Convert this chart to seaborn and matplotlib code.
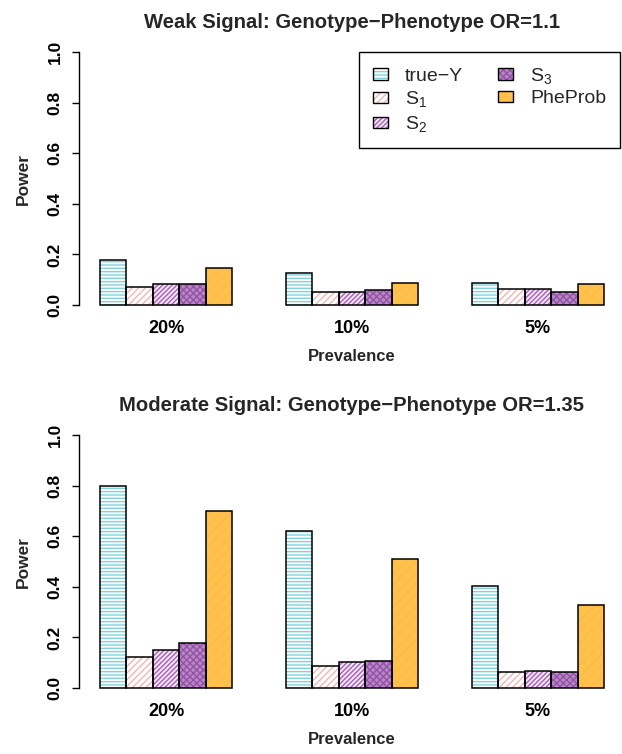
import numpy as np
import pandas as pd
import matplotlib
matplotlib.use("Agg")
import matplotlib.pyplot as plt
import matplotlib.patches as mpatches
import seaborn as sns

# data
prevalence = ['20%', '10%', '5%']
methods = ['true\u2212Y', 'S$_1$', 'S$_2$', 'S$_3$', 'PheProb']

weak_trueY = [0.176, 0.126, 0.088]
weak_S1 = [0.070, 0.053, 0.062]
weak_S2 = [0.082, 0.053, 0.065]
weak_S3 = [0.082, 0.058, 0.053]
weak_pheprob = [0.146, 0.088, 0.082]

mod_trueY = [0.798, 0.619, 0.405]
mod_S1 = [0.121, 0.086, 0.064]
mod_S2 = [0.152, 0.104, 0.068]
mod_S3 = [0.176, 0.108, 0.064]
mod_pheprob = [0.698, 0.512, 0.329]

y_ticks = [0.0, 0.2, 0.4, 0.6, 0.8, 1.0]

# (face colour, hatch, hatch colour) for each method
styles = [
    ('white', '-----', '#7fd3e0'),
    ('white', '/////', '#f5b4b4'),
    ('#f3e6f5', '///////', '#a85fb8'),
    ('#b888c6', 'xxxxx', '#9452a6'),
    ('#ffc04c', '///', '#fabb47'),
]

sns.set_style('white')
plt.rcParams['font.family'] = ['Liberation Sans', 'DejaVu Sans']
plt.rcParams['mathtext.fontset'] = 'custom'
plt.rcParams['mathtext.rm'] = 'Liberation Sans'
plt.rcParams['mathtext.it'] = 'Liberation Sans:italic'
plt.rcParams['hatch.linewidth'] = 1.0


def make_frame(vals):
    rows = []
    for m, series in zip(methods, vals):
        for p, v in zip(prevalence, series):
            rows.append({'Prevalence': p, 'Method': m, 'Power': v})
    return pd.DataFrame(rows)


def draw_panel(ax, df, title):
    sns.barplot(data=df, x='Prevalence', y='Power', hue='Method',
                order=prevalence, hue_order=methods, width=5 / 7,
                legend=False, ax=ax)
    for cont, (fc, hatch, hc) in zip(ax.containers, styles):
        for bar in cont:
            bar.set_facecolor(fc)
            bar.set_hatch(hatch)
            bar.set_edgecolor(hc)
            bar.set_linewidth(0)
            ax.add_patch(mpatches.Rectangle(bar.get_xy(), bar.get_width(),
                                            bar.get_height(), fill=False,
                                            edgecolor='black', lw=1.1))
    ax.set_xlim(-0.4657, 2.4657)
    ax.set_ylim(-0.04, 1.04)
    ax.set_yticks(y_ticks)
    ax.set_yticklabels([f'{t:.1f}' for t in y_ticks], rotation=90,
                       va='center', fontweight='bold', fontsize=12.5)
    ax.set_xticks(range(3))
    ax.set_xticklabels(prevalence, fontweight='bold', fontsize=13)
    for s in ['top', 'right', 'bottom']:
        ax.spines[s].set_visible(False)
    ax.spines['left'].set_bounds(0, 1)
    ax.spines['left'].set_color('black')
    ax.spines['left'].set_linewidth(1.0)
    ax.tick_params(axis='y', length=5, width=1.0, direction='out', pad=7,
                   colors='black', left=True)
    ax.tick_params(axis='x', length=0, pad=3.5, colors='black')
    ax.set_xlabel('Prevalence', fontweight='bold', fontsize=12, labelpad=9)
    ax.set_ylabel('Power', fontweight='bold', fontsize=12.5, labelpad=12)
    ax.set_title(title, fontweight='bold', fontsize=14.6, pad=10)


fig = plt.figure(figsize=(6.22, 7.54), dpi=100)
ax1 = fig.add_axes([0.1278, 0.5821, 0.8762, 0.3623])
ax2 = fig.add_axes([0.1278, 0.0741, 0.8762, 0.3623])

draw_panel(ax1, make_frame([weak_trueY, weak_S1, weak_S2, weak_S3, weak_pheprob]),
           'Weak Signal: Genotype\u2212Phenotype OR=1.1')
draw_panel(ax2, make_frame([mod_trueY, mod_S1, mod_S2, mod_S3, mod_pheprob]),
           'Moderate Signal: Genotype\u2212Phenotype OR=1.35')

handles = []
for fc, hatch, hc in styles:
    handles.append((mpatches.Patch(facecolor=fc, hatch=hatch, edgecolor=hc, lw=0),
                    mpatches.Patch(fill=False, edgecolor='black', lw=1.0)))
leg = fig.legend(handles, methods, ncol=2, loc='upper right',
                 bbox_to_anchor=(620 / 622, 1 - 52 / 754), borderaxespad=0,
                 fontsize=14, frameon=True, fancybox=False, framealpha=1,
                 edgecolor='black', handlelength=0.75, handleheight=0.55,
                 handletextpad=0.9, columnspacing=1.8, labelspacing=0.25,
                 borderpad=0.7)
leg.get_frame().set_linewidth(1.0)

fig.savefig('out.png', dpi=100)
